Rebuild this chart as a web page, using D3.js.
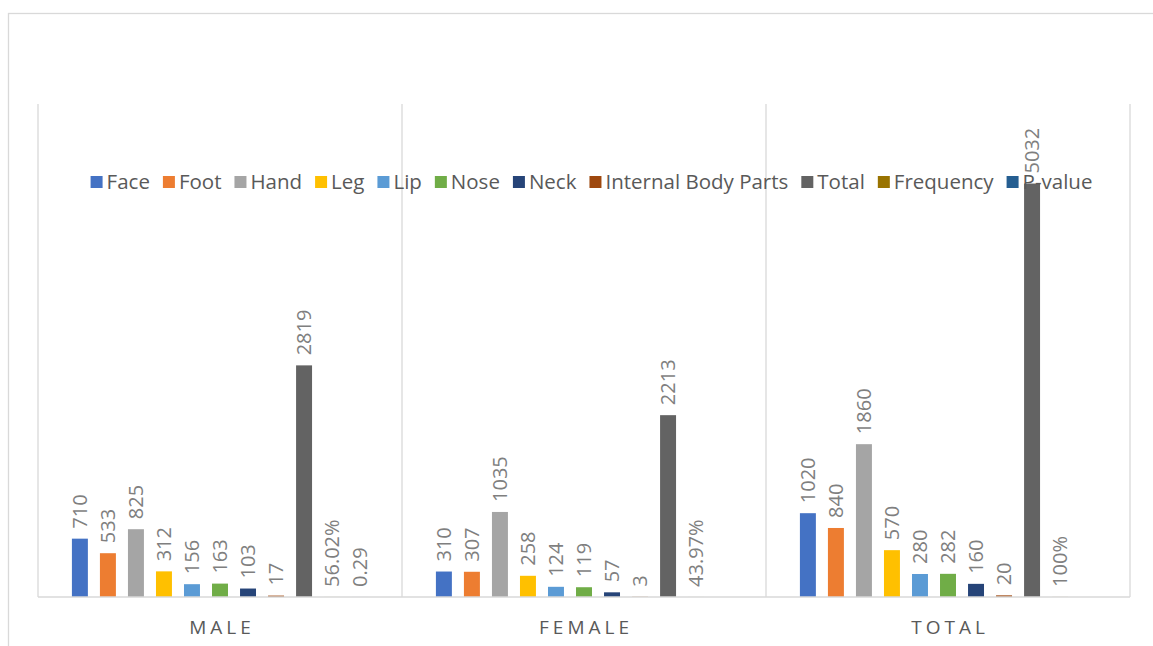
<!DOCTYPE html>
<html>
<head>
<meta charset="utf-8">
<script src="https://cdn.jsdelivr.net/npm/d3@7"></script>
<style>
  body { margin: 0; background: #fff; }
  text { font-family: "Open Sans", sans-serif; }
</style>
</head>
<body>
<div id="chart"></div>
<script>
// categories along the x axis
var categories = ["MALE", "FEMALE", "TOTAL"];

// series names (legend order)
var seriesNames = ["Face", "Foot", "Hand", "Leg", "Lip", "Nose", "Neck",
  "Internal Body Parts", "Total", "Frequency", "P-value"];

var seriesColors = ["#4472C4", "#ED7D31", "#A5A5A5", "#FFC000", "#5B9BD5", "#70AD47",
  "#264478", "#9E480E", "#636363", "#997300", "#255E91"];

// one array per series, values for MALE, FEMALE, TOTAL
var face = [710, 310, 1020];
var foot = [533, 307, 840];
var hand = [825, 1035, 1860];
var leg = [312, 258, 570];
var lip = [156, 124, 280];
var nose = [163, 119, 282];
var neck = [103, 57, 160];
var internal = [17, 3, 20];
var total = [2819, 2213, 5032];
var frequency = [0.5602, 0.4397, 1.0];
var pvalue = [0.29, null, null];

var seriesValues = [face, foot, hand, leg, lip, nose, neck, internal, total, frequency, pvalue];

var W = 1153, H = 646;
var margin = {top: 104, right: 23, bottom: 49, left: 38},
    width = W - margin.left - margin.right,
    height = H - margin.top - margin.bottom;

var svg = d3.select("#chart")
  .append("svg")
    .attr("width", W)
    .attr("height", H);

// chart border
svg.append("rect")
  .attr("x", 8.5).attr("y", 13.5)
  .attr("width", 1200).attr("height", 700)
  .attr("fill", "none")
  .attr("stroke", "#d9d9d9")
  .attr("stroke-width", 1.3);

var g = svg.append("g")
  .attr("transform", "translate(" + margin.left + "," + margin.top + ")");

// scales
var x0 = d3.scaleBand().domain(categories).range([0, width]);
var x1 = d3.scaleBand().domain(d3.range(seriesNames.length))
  .range([0, x0.bandwidth()])
  .paddingInner(0.43)
  .paddingOuter(1.21);
var y = d3.scaleLinear().domain([0, 6000]).range([height, 0]);

// vertical separators between categories + left/right axis lines
var seps = [0].concat(categories.map(function(c) { return x0(c) + x0.bandwidth(); }));
g.selectAll(".sep")
  .data(seps)
  .enter().append("line")
    .attr("class", "sep")
    .attr("x1", function(d) { return d; })
    .attr("x2", function(d) { return d; })
    .attr("y1", 0)
    .attr("y2", height)
    .attr("stroke", "#d9d9d9")
    .attr("stroke-width", 1.3);

// bars
var rows = [];
categories.forEach(function(c, ci) {
  seriesValues.forEach(function(vals, si) {
    rows.push({cat: c, s: si, v: vals[ci]});
  });
});

g.selectAll(".bar")
  .data(rows.filter(function(d) { return d.v !== null; }))
  .enter().append("rect")
    .attr("class", "bar")
    .attr("x", function(d) { return x0(d.cat) + x1(d.s); })
    .attr("width", x1.bandwidth())
    .attr("y", function(d) { return y(d.v); })
    .attr("height", function(d) { return height - y(d.v); })
    .attr("fill", function(d) { return seriesColors[d.s]; });

// x axis baseline
g.append("line")
  .attr("x1", 0).attr("x2", width)
  .attr("y1", height).attr("y2", height)
  .attr("stroke", "#d9d9d9")
  .attr("stroke-width", 1.6);

// category labels
g.selectAll(".cat")
  .data(categories)
  .enter().append("text")
    .attr("class", "cat")
    .attr("x", function(d) { return x0(d) + x0.bandwidth() / 2 + 2; })
    .attr("y", height + 37)
    .attr("text-anchor", "middle")
    .attr("font-size", 19)
    .attr("letter-spacing", "4px")
    .attr("fill", "#595959")
    .text(function(d) { return d; });

// data labels
var pct = d3.format(".2~%");
g.selectAll(".lbl")
  .data(rows.filter(function(d) { return d.v !== null; }))
  .enter().append("text")
    .attr("class", "lbl")
    .attr("transform", function(d) {
      var cx = x0(d.cat) + x1(d.s) + x1.bandwidth() / 2;
      return "translate(" + cx + "," + (y(d.v) - 10) + ") rotate(-90)";
    })
    .attr("dy", "0.35em")
    .attr("font-size", 20)
    .attr("fill", "#7f7f7f")
    .text(function(d) { return d.s === 9 ? pct(d.v) : d.v; });

// legend
var legend = svg.append("g");
var items = legend.selectAll(".li")
  .data(seriesNames)
  .enter().append("g")
    .attr("class", "li");
items.append("rect")
  .attr("width", 12).attr("height", 12)
  .attr("y", -6)
  .attr("fill", function(d, i) { return seriesColors[i]; });
items.append("text")
  .attr("x", 16)
  .attr("dy", "0.35em")
  .attr("font-size", 20.5)
  .attr("fill", "#595959")
  .text(function(d) { return d; });

var pos = 0, offsets = [];
items.each(function() {
  offsets.push(pos);
  pos += 16 + this.querySelector("text").getComputedTextLength() + 13;
});
var legW = pos - 13;
var legX = 591.5 - legW / 2;
items.attr("transform", function(d, i) { return "translate(" + (legX + offsets[i]) + ",182)"; });
</script>
</body>
</html>
